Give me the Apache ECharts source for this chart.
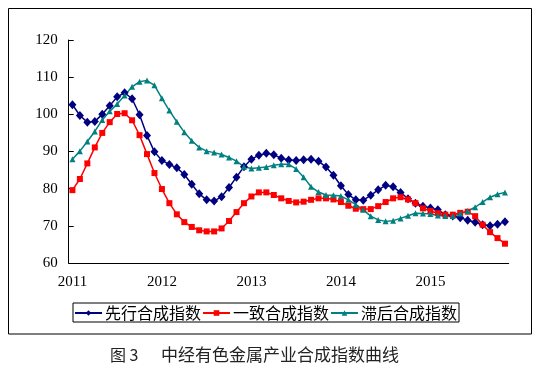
<!DOCTYPE html>
<html>
<head>
<meta charset="utf-8">
<script src="https://cdn.jsdelivr.net/npm/echarts@6/dist/echarts.min.js"></script>
<style>html,body{margin:0;padding:0;background:#fff}#c{width:540px;height:380px}</style>
</head>
<body>
<div id="c"></div>
<script>
const categories = [
 '2011-01','2011-02','2011-03','2011-04','2011-05','2011-06','2011-07','2011-08','2011-09','2011-10','2011-11','2011-12',
 '2012-01','2012-02','2012-03','2012-04','2012-05','2012-06','2012-07','2012-08','2012-09','2012-10','2012-11','2012-12',
 '2013-01','2013-02','2013-03','2013-04','2013-05','2013-06','2013-07','2013-08','2013-09','2013-10','2013-11','2013-12',
 '2014-01','2014-02','2014-03','2014-04','2014-05','2014-06','2014-07','2014-08','2014-09','2014-10','2014-11','2014-12',
 '2015-01','2015-02','2015-03','2015-04','2015-05','2015-06','2015-07','2015-08','2015-09','2015-10','2015-11'
];
const seriesNames = ['先行合成指数', '一致合成指数', '滞后合成指数'];
const leadIndex = [
 102.6, 99.7, 97.9, 98.1, 100.0, 102.3, 104.7, 105.8, 104.2, 99.9, 94.3, 89.9,
 87.6, 86.5, 85.6, 83.8, 81.2, 78.6, 77.0, 76.7, 77.8, 80.3, 83.1, 85.9,
 87.9, 89.0, 89.5, 89.1, 88.2, 87.7, 87.6, 87.8, 87.9, 87.4, 85.8, 83.6,
 80.8, 78.4, 77.0, 76.9, 78.2, 79.7, 80.9, 80.5, 79.0, 77.3, 76.1, 75.3,
 74.8, 74.3, 73.0, 72.65, 72.2, 71.5, 70.95, 70.3, 70.0, 70.4, 71.1
];
const coincidentIndex = [
 79.6, 82.6, 86.8, 91.1, 95.0, 97.9, 100.1, 100.3, 98.4, 94.4, 89.3, 84.2,
 79.9, 76.1, 73.1, 71.0, 69.7, 68.8, 68.5, 68.5, 69.3, 71.3, 73.7, 76.1,
 77.9, 79.0, 79.0, 78.3, 77.4, 76.7, 76.3, 76.5, 77.0, 77.4, 77.4, 77.1,
 76.4, 75.4, 74.6, 74.5, 74.5, 75.3, 76.4, 77.4, 77.7, 77.1, 76.1, 74.7,
 74.0, 73.4, 73.0, 73.0, 73.5, 73.8, 72.6, 70.3, 68.3, 66.7, 65.2
];
const laggingIndex = [
 87.9, 90.1, 92.7, 95.4, 98.5, 100.8, 102.8, 105.1, 107.4, 108.8, 109.1, 107.8,
 104.3, 101.0, 98.0, 95.2, 92.9, 91.1, 90.1, 89.7, 89.2, 88.4, 87.4, 85.9,
 85.4, 85.6, 85.8, 86.3, 86.6, 86.55, 85.3, 83.1, 80.5, 79.1, 78.3, 78.2,
 78.0, 77.0, 75.7, 74.3, 72.6, 71.6, 71.2, 71.4, 72.0, 72.7, 73.4, 73.3,
 73.2, 72.8, 72.65, 72.65, 73.3, 74.0, 75.0, 76.4, 77.7, 78.5, 79.0
];
const captionPrefix = '图 3';
const captionText = '中经有色金属产业合成指数曲线';

const chart = echarts.init(document.getElementById('c'), null, {renderer: 'canvas'});
const numFont = 'Liberation Serif';
const cjkFont = 'Noto Sans CJK SC';
function mk(name, data, color, symbol, size) {
  return {
    name: name, type: 'line', data: data, symbol: symbol, symbolSize: size,
    showAllSymbol: true,
    lineStyle: {color: color, width: 1.5},
    itemStyle: {color: color},
    emphasis: {disabled: true}
  };
}
chart.setOption({
  animation: false,
  backgroundColor: '#ffffff',
  grid: {left: 68.7, right: 31.3, top: 40, bottom: 117, containLabel: false},
  xAxis: {
    type: 'category', data: categories, boundaryGap: true,
    axisLine: {lineStyle: {color: '#000', width: 1}},
    axisTick: {inside: true, interval: 11, length: 6, lineStyle: {color: '#000'}},
    axisLabel: {interval: 11, margin: 12, color: '#000', fontFamily: numFont, fontSize: 15,
      formatter: function (v) { return v.slice(0, 4); }},
    splitLine: {show: false}
  },
  yAxis: {
    type: 'value', min: 60, max: 120, interval: 10,
    axisLine: {show: true, lineStyle: {color: '#000', width: 1}},
    axisTick: {show: true, inside: true, length: 5, lineStyle: {color: '#000'}},
    axisLabel: {margin: 11, color: '#000', fontFamily: numFont, fontSize: 15},
    splitLine: {show: false}
  },
  legend: {
    data: seriesNames, left: 73, top: 303, orient: 'horizontal',
    padding: [2, 2, 1, 1], itemGap: 1, itemWidth: 27, itemHeight: 7,
    borderColor: '#000', borderWidth: 1,
    textStyle: {fontFamily: cjkFont, fontSize: 16, color: '#000', padding: [0, 0, 0, -2]}
  },
  graphic: [
    {type: 'rect', silent: true, z: -1,
     shape: {x: 8.5, y: 8.5, width: 523, height: 325.5},
     style: {fill: null, stroke: '#000', lineWidth: 1}},
    {type: 'text', left: 110, top: 347,
     style: {text: captionPrefix, font: '16px "Noto Sans CJK SC"', fill: '#222'}},
    {type: 'text', left: 161, top: 346,
     style: {text: captionText, font: '17px "Noto Sans CJK SC"', fill: '#222'}}
  ],
  series: [
    mk(seriesNames[0], leadIndex, '#000080', 'diamond', [8, 9]),
    mk(seriesNames[1], coincidentIndex, '#ff0000', 'rect', 6),
    mk(seriesNames[2], laggingIndex, '#008080', 'triangle', 6)
  ]
});
</script>
</body>
</html>
